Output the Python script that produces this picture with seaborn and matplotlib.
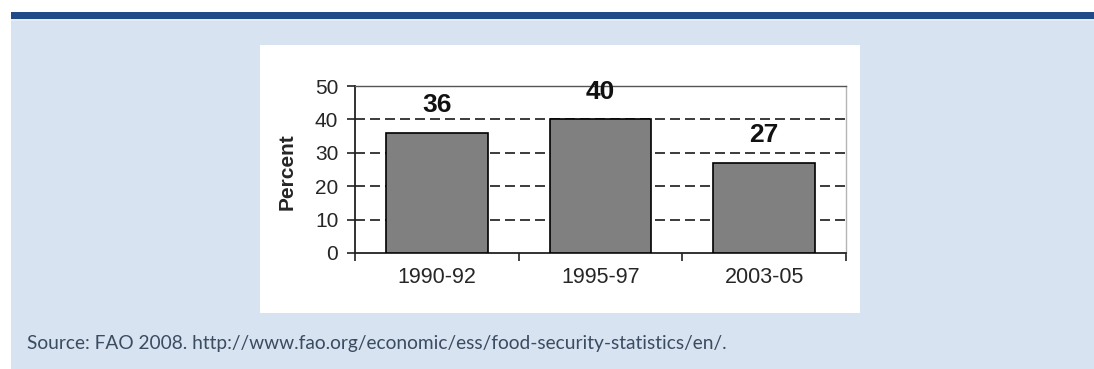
import matplotlib
matplotlib.use("Agg")
import matplotlib.pyplot as plt
from matplotlib.patches import Rectangle
import seaborn as sns
import pandas as pd

# Share of population (percent) by period
periods = ["1990-92", "1995-97", "2003-05"]
percent = [36, 40, 27]
y_ticks = [0, 10, 20, 30, 40, 50]
source_note = "Source: FAO 2008. http://www.fao.org/economic/ess/food-security-statistics/en/."

sns.set_theme(style="white")
plt.rcParams["font.family"] = ["Liberation Sans", "DejaVu Sans"]

W, H = 1094, 369
fig = plt.figure(figsize=(W / 100, H / 100), dpi=100)
fig.patch.set_facecolor("#d7e3f1")


def px_rect(x0, y0, x1, y1, color):
    """Rectangle given in pixel coordinates measured from the top-left corner."""
    fig.patches.append(Rectangle((x0 / W, 1 - y1 / H), (x1 - x0) / W, (y1 - y0) / H,
                                 transform=fig.transFigure, facecolor=color,
                                 edgecolor="none", zorder=-5))


# page furniture: white margins, navy rule, white chart panel
px_rect(0, 0, W, 12, "white")
px_rect(0, 0, 11, H, "white")
px_rect(11, 12, W, 19, "#1f4c89")
px_rect(11, 19, W, 21, "#e4ecf6")
px_rect(260, 45, 860, 313, "white")

ax = fig.add_axes([355 / W, 1 - 253 / H, (846 - 355) / W, (253 - 86) / H])
ax.set_zorder(2)
ax.set_facecolor("none")

df = pd.DataFrame({"period": periods, "percent": percent})
sns.barplot(data=df, x="period", y="percent", color="#808080", saturation=1,
            edgecolor="black", linewidth=1.2, width=0.623, ax=ax, zorder=3)

ax.set_xlim(-0.5, len(periods) - 0.5)
ax.set_ylim(0, 50)
ax.set_yticks(y_ticks)
ax.set_yticklabels([str(t) for t in y_ticks], fontsize=15)

# dashed gridlines behind the bars
for t in y_ticks[1:-1]:
    ax.axhline(t, color="#1a1a1a", lw=1.2, ls=(0, (6, 3)), zorder=1)

# category ticks sit between the bars
ax.set_xticks(range(len(periods)))
ax.set_xticklabels(periods, fontsize=15.5)
ax.set_xticks([i - 0.5 for i in range(len(periods) + 1)], minor=True)
ax.tick_params(axis="x", which="major", length=0, pad=10)
ax.tick_params(axis="x", which="minor", length=6, width=1.2, color="#222222", direction="out", bottom=True)
ax.tick_params(axis="y", length=6, width=1.2, color="#222222", direction="out", left=True, pad=6)

for side in ["left", "bottom"]:
    ax.spines[side].set_color("#222222")
    ax.spines[side].set_linewidth(1.3)
ax.spines["top"].set_color("#555555")
ax.spines["top"].set_linewidth(1.0)
ax.spines["right"].set_color("#b5b5b5")
ax.spines["right"].set_linewidth(1.0)

ax.set_xlabel("")
ax.set_ylabel("Percent", fontsize=15, fontweight="bold")
ax.yaxis.set_label_coords(-58 / (846 - 355), 0.49)

# value labels above each bar
for i, v in enumerate(percent):
    ax.annotate(str(v), xy=(i, v), xytext=(0, 20), textcoords="offset points",
                ha="center", va="center", fontsize=19, fontweight="bold", color="#111111")

fig.text(27 / W, 1 - 349 / H, source_note, fontsize=13.8, color="#3b4b60",
         family=["Lato", "DejaVu Sans"], ha="left", va="baseline")

fig.savefig("out.png", dpi=100, facecolor=fig.get_facecolor())
